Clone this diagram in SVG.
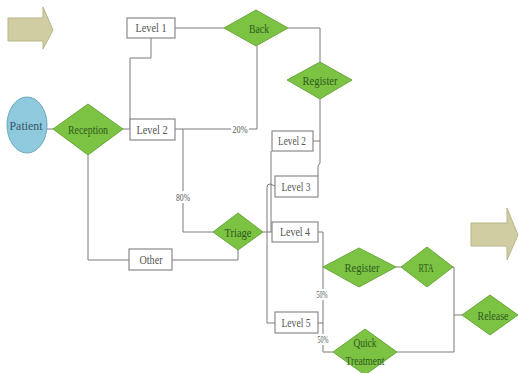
<svg xmlns="http://www.w3.org/2000/svg" width="519" height="373" viewBox="0 0 519 373">
<style>
.ln{fill:none;stroke:#7a7a7a;stroke-width:1}
.box{fill:#fff;stroke:#8a8a8a;stroke-width:1.2}
.dia{fill:#7cc243;stroke:#69a83a;stroke-width:1}
text{font-family:'Liberation Serif','DejaVu Serif',serif;text-anchor:middle}
.bt{font-size:13px;fill:#555}
.dt{font-size:13px;fill:#2f5a1c}
.pt{font-size:13px;fill:#3b5566}
.lb{font-size:11px;fill:#555}
.arr{fill:#d1cda2;stroke:#b9b58c;stroke-width:1}
</style>
<rect width="519" height="373" fill="#fff"/>
<g id="arrow-left"><polygon class="arr" points="8,18 43,18 43,7 53,30 43,49 43,41 8,41"/></g>
<g id="arrow-right"><polygon class="arr" points="471,223 507,223 507,208 518,235 507,260 507,246 471,246"/></g>
<g id="connectors">
<path class="ln" d="M47,129 H53"/>
<path class="ln" d="M123,129 H130"/>
<path class="ln" d="M151,38 V58 H130 V129"/>
<path class="ln" d="M175,28 H224"/>
<path class="ln" d="M288,28 H320 V62"/>
<path class="ln" d="M175,129 H257 V46"/>
<path class="ln" d="M183,129 V232 H213"/>
<path class="ln" d="M88,155 V260 H129"/>
<path class="ln" d="M172,260 H238 V249"/>
<path class="ln" d="M320,99 V163 L318,166 V176"/>
<path class="ln" d="M313,141 H320"/>
<path class="ln" d="M271,151 V232"/>
<path class="ln" d="M263,232 H272"/>
<path class="ln" d="M267,232 V323 H275"/>
<path class="ln" d="M267,232 V187 Q267,184 270,184 L275,186"/>
<path class="ln" d="M318,232 H323 V352 H333"/>
<path class="ln" d="M323,267 H324"/>
<path class="ln" d="M318,323 H323"/>
<path class="ln" d="M396,267 H401"/>
<path class="ln" d="M453,267 H454 V352 H397"/>
<path class="ln" d="M454,315 H462"/>
<rect x="231" y="124" width="18" height="11" fill="#fff"/>
<text class="lb" x="240" y="133" textLength="15" lengthAdjust="spacingAndGlyphs">20%</text>
<rect x="175" y="191" width="16" height="12" fill="#fff"/>
<text class="lb" x="183" y="201" textLength="14" lengthAdjust="spacingAndGlyphs">80%</text>
<rect x="316" y="289" width="13" height="11" fill="#fff"/>
<text class="lb" x="322" y="298" textLength="11" lengthAdjust="spacingAndGlyphs">50%</text>
<rect x="316" y="334" width="13" height="11" fill="#fff"/>
<text class="lb" x="323" y="343" textLength="11" lengthAdjust="spacingAndGlyphs">50%</text>
</g>
<g id="patient"><ellipse cx="27" cy="125" rx="20" ry="28" fill="#8fc9de" stroke="#6aa7bd"/><text class="pt" x="26" y="130" textLength="33" lengthAdjust="spacingAndGlyphs">Patient</text></g>
<g id="reception"><polygon class="dia" points="53,129 88,104 123,129 88,155"/><text class="dt" x="88" y="134" textLength="40" lengthAdjust="spacingAndGlyphs">Reception</text></g>
<g id="level1"><rect class="box" x="127" y="18" width="48" height="20"/><text class="bt" x="151" y="32" textLength="31" lengthAdjust="spacingAndGlyphs">Level 1</text></g>
<g id="level2a"><rect class="box" x="130" y="119" width="45" height="21"/><text class="bt" x="152" y="134" textLength="31" lengthAdjust="spacingAndGlyphs">Level 2</text></g>
<g id="back"><polygon class="dia" points="224,28 256,10 288,28 256,46"/><text class="dt" x="259" y="33" textLength="20" lengthAdjust="spacingAndGlyphs">Back</text></g>
<g id="register1"><polygon class="dia" points="287,80 320,62 352,80 320,99"/><text class="dt" x="320" y="85" textLength="35" lengthAdjust="spacingAndGlyphs">Register</text></g>
<g id="level2b"><rect class="box" x="272" y="131" width="41" height="20"/><text class="bt" x="292" y="145" textLength="28" lengthAdjust="spacingAndGlyphs">Level 2</text></g>
<g id="level3"><rect class="box" x="275" y="176" width="43" height="21"/><text class="bt" x="296" y="191" textLength="29" lengthAdjust="spacingAndGlyphs">Level 3</text></g>
<g id="triage"><polygon class="dia" points="213,232 238,213 263,232 238,250"/><text class="dt" x="238" y="237" textLength="27" lengthAdjust="spacingAndGlyphs">Triage</text></g>
<g id="level4"><rect class="box" x="272" y="222" width="46" height="20"/><text class="bt" x="295" y="236" textLength="30" lengthAdjust="spacingAndGlyphs">Level 4</text></g>
<g id="other"><rect class="box" x="129" y="249" width="43" height="21"/><text class="bt" x="151" y="264" textLength="23" lengthAdjust="spacingAndGlyphs">Other</text></g>
<g id="register2"><polygon class="dia" points="323,267 359,248 396,267 359,287"/><text class="dt" x="362" y="272" textLength="35" lengthAdjust="spacingAndGlyphs">Register</text></g>
<g id="rta"><polygon class="dia" points="401,267 427,247 453,267 427,287"/><text class="dt" x="426" y="272" textLength="15" lengthAdjust="spacingAndGlyphs">RTA</text></g>
<g id="release"><polygon class="dia" points="462,315 490,295 518,315 490,335"/><text class="dt" x="493" y="320" textLength="31" lengthAdjust="spacingAndGlyphs">Release</text></g>
<g id="level5"><rect class="box" x="275" y="312" width="43" height="21"/><text class="bt" x="296" y="327" textLength="29" lengthAdjust="spacingAndGlyphs">Level 5</text></g>
<g id="quick"><polygon class="dia" points="333,352 365,329 397,352 365,375"/><text class="dt" x="365" y="347" textLength="23" lengthAdjust="spacingAndGlyphs">Quick</text><text class="dt" x="365" y="365" textLength="39" lengthAdjust="spacingAndGlyphs">Treatment</text></g>
</svg>
